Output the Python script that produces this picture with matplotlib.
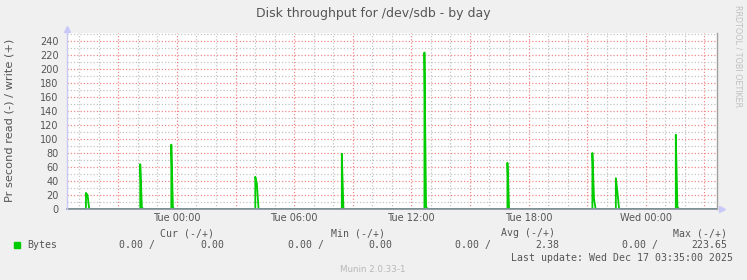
import matplotlib
matplotlib.use("Agg")
import matplotlib.pyplot as plt
import numpy as np

# hours relative to Tue 00:00, 5 minute samples
step = 5 / 60.0
spike_start = [-4.66, -1.88, -0.29, 4.01, 8.44, 12.67, 16.92, 21.27, 22.47, 25.54]
spike_vals = [[23, 20], [64, 2], [92, 2], [46, 36], [79], [223.65, 3],
              [66], [80, 14], [44, 24], [106, 3]]
x_start, x_end = -5.63, 27.65

tick_hours = [0, 6, 12, 18, 24]
tick_labels = ['Tue 00:00', 'Tue 06:00', 'Tue 12:00', 'Tue 18:00', 'Wed 00:00']

legend_rows = [("Cur (-/+)", "0.00", "0.00"),
               ("Min (-/+)", "0.00", "0.00"),
               ("Avg (-/+)", "0.00", "2.38"),
               ("Max (-/+)", "0.00", "223.65")]

# build the series from the spikes
t = [x_start]
v = [0]
for t0, vals in zip(spike_start, spike_vals):
    t.append(t0)
    v.append(0)
    for k, val in enumerate(vals):
        t.append(t0 + k * step)
        v.append(val)
    t.append(t0 + len(vals) * step)
    v.append(0)
t.append(x_end)
v.append(0)

W, H = 747, 280
fig = plt.figure(figsize=(W / 100, H / 100), dpi=100, facecolor='#f0f0f0')
ax = fig.add_axes([67 / W, 1 - 209 / H, (717 - 67) / W, (209 - 33) / H])
ax.set_facecolor('white')

ax.set_xlim(x_start, x_end)
ax.set_ylim(0, 251.5)

# grid
red, grey = '#f08888', '#c4c4c4'
for h in np.arange(-5, 28, 1):
    col = red if h % 3 == 0 else grey
    ax.axvline(h, color=col, lw=0.9, ls=(0, (1, 1.6)), zorder=1)
for y in range(10, 251, 10):
    col = red if y % 20 == 0 else grey
    ax.axhline(y, color=col, lw=0.9, ls=(0, (1, 1.6)), zorder=1)

ax.plot(t, v, color='#00cc00', lw=1.3, zorder=3)

for s in ax.spines.values():
    s.set_visible(False)
ax.axhline(0, color='#8a8aa8', lw=1.2, zorder=4, clip_on=False)
ax.axvline(x_start, color='#c8c8f0', lw=1.0, zorder=4, clip_on=False)
ax.axvline(x_end, color='#a0a0a0', lw=1.0, zorder=4, clip_on=False)
ax.plot([0], [1.02], marker='^', ms=5, color='#c8c8f8', transform=ax.transAxes, clip_on=False)
ax.plot([1.008], [0], marker='>', ms=5, color='#c8c8f8', transform=ax.transAxes, clip_on=False)

ax.set_xticks(tick_hours)
ax.set_xticklabels(tick_labels)
ax.set_yticks(range(0, 241, 20))
ax.tick_params(length=0, labelsize=7, colors='#555555')
ax.tick_params(axis='x', pad=3)
ax.tick_params(axis='y', pad=6)

fig.text(373 / W, 1 - 13 / H, 'Disk throughput for /dev/sdb - by day',
         ha='center', va='center', fontsize=9, color='#555555')
fig.text(10 / W, 1 - 120 / H, 'Pr second read (-) / write (+)', rotation=90,
         ha='center', va='center', fontsize=8.2, color='#555555')
fig.text(738 / W, 1 - 56 / H, 'RRDTOOL / TOBI OETIKER', rotation=270,
         ha='center', va='center', fontsize=5.8, color='#c0c0c0')

mono = 'DejaVu Sans Mono'
fig.add_artist(plt.Rectangle((14 / W, 1 - 248 / H), 6 / W, 6 / H,
                             transform=fig.transFigure, color='#00cc00'))
fig.text(27 / W, 1 - 245 / H, 'Bytes', ha='left', va='center',
         fontsize=7.1, family=mono, color='#555555')
head_right = [214, 385, 555, 727]
neg_right = [155, 324, 491, 658]
pos_right = [224, 392, 559, 727]
for i, (name, neg, pos) in enumerate(legend_rows):
    fig.text(head_right[i] / W, 1 - 233 / H, name, ha='right', va='center',
             fontsize=7.1, family=mono, color='#555555')
    fig.text(neg_right[i] / W, 1 - 245 / H, neg + ' /', ha='right', va='center',
             fontsize=7.1, family=mono, color='#555555')
    fig.text(pos_right[i] / W, 1 - 245 / H, pos, ha='right', va='center',
             fontsize=7.1, family=mono, color='#555555')
fig.text(733 / W, 1 - 258 / H, 'Last update: Wed Dec 17 03:35:00 2025',
         ha='right', va='center', fontsize=7.1, family=mono, color='#555555')
fig.text(373 / W, 1 - 269 / H, 'Munin 2.0.33-1', ha='center', va='center',
         fontsize=6.3, color='#b8b8b8')

fig.savefig('out.png', dpi=100, facecolor=fig.get_facecolor())
